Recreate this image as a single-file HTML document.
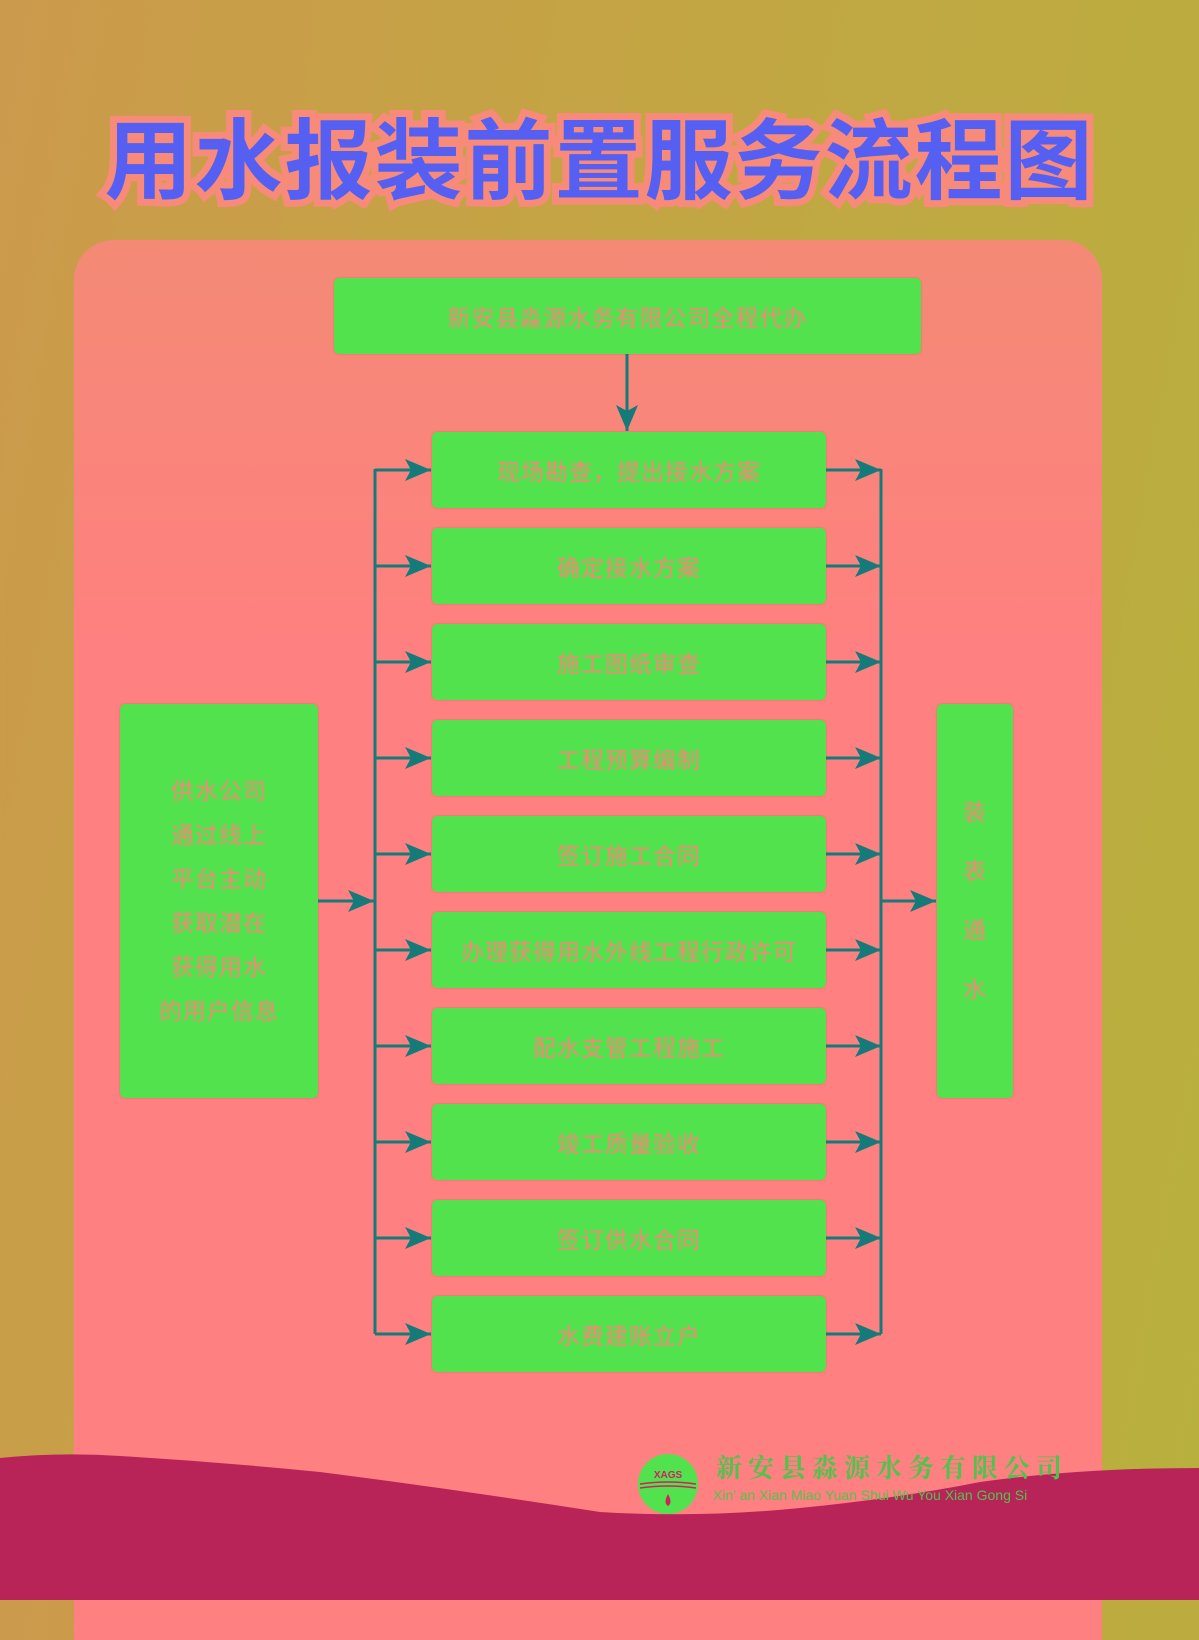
<!DOCTYPE html>
<html><head><meta charset="utf-8"><style>
html,body{margin:0;padding:0}
body{width:1199px;height:1600px;position:relative;overflow:hidden;font-family:"Liberation Sans","Noto Sans CJK SC",sans-serif;
background:linear-gradient(100deg,#cc9a4c 0%,#c4a444 40%,#b8b03e 100%);}
.panel{position:absolute;left:74px;top:240px;width:1028px;height:1400px;border-radius:40px 40px 0 0;
background:linear-gradient(180deg,#f48a76 0%,#ff8080 30%,#ff8080 100%);}
.title{position:absolute;left:0;width:1199px;top:95px;text-align:center;font-size:88px;font-weight:bold;color:#5560f2;letter-spacing:2px;
-webkit-text-stroke:14px #f88a7a;paint-order:stroke fill;font-family:"Noto Sans CJK SC",sans-serif;line-height:120px}
.box{position:absolute;background:#52e24e;border-radius:5px;color:#f08a74;font-size:23px;display:flex;align-items:center;justify-content:center;letter-spacing:1px;box-shadow:0 0 2px #e07060}
.mid{left:432px;width:394px;height:76px}
svg{display:block;position:absolute;left:0;top:0}
</style></head><body>
<div class="panel"></div>
<div class="title">用水报装前置服务流程图</div>
<svg width="1199" height="1600">
<path d="M0 1458 Q60 1452 120 1456 Q220 1462 320 1472 Q460 1490 600 1512 Q700 1518 800 1508 Q900 1498 980 1482 Q1080 1468 1199 1468 L1199 1600 L0 1600Z" fill="#b82458"/>
</svg>
<div class="box" style="left:334px;top:278px;width:587px;height:76px">新安县淼源水务有限公司全程代办</div>
<div class="box mid" style="top:432px">现场勘查，提出接水方案</div>
<div class="box mid" style="top:528px">确定接水方案</div>
<div class="box mid" style="top:624px">施工图纸审查</div>
<div class="box mid" style="top:720px">工程预算编制</div>
<div class="box mid" style="top:816px">签订施工合同</div>
<div class="box mid" style="top:912px">办理获得用水外线工程行政许可</div>
<div class="box mid" style="top:1008px">配水支管工程施工</div>
<div class="box mid" style="top:1104px">竣工质量验收</div>
<div class="box mid" style="top:1200px">签订供水合同</div>
<div class="box mid" style="top:1296px">水费建账立户</div>
<div class="box" style="left:120px;top:704px;width:198px;height:394px;line-height:44px;text-align:center">供水公司<br>通过线上<br>平台主动<br>获取潜在<br>获得用水<br>的用户信息</div>
<div class="box" style="left:937px;top:704px;width:76px;height:394px;line-height:59px;text-align:center">装<br>表<br>通<br>水</div>
<svg width="1199" height="1600">
<defs>
<marker id="b" markerWidth="26" markerHeight="22" refX="26" refY="11" orient="auto" markerUnits="userSpaceOnUse"><path d="M0 0L26 11L0 22L6 11Z" fill="#157a7a"/></marker></defs>
<g stroke="#157a7a" stroke-width="3" fill="none">
<line x1="627" y1="354" x2="627" y2="431" marker-end="url(#b)"/>
<line x1="375" y1="469" x2="375" y2="1334"/>
<line x1="881" y1="469" x2="881" y2="1334"/>
<line x1="318" y1="901" x2="374" y2="901" marker-end="url(#b)"/>
<line x1="881" y1="901" x2="936" y2="901" marker-end="url(#b)"/>
<line x1="375" y1="470" x2="431" y2="470" marker-end="url(#b)"/><line x1="826" y1="470" x2="881" y2="470" marker-end="url(#b)"/>
<line x1="375" y1="566" x2="431" y2="566" marker-end="url(#b)"/><line x1="826" y1="566" x2="881" y2="566" marker-end="url(#b)"/>
<line x1="375" y1="662" x2="431" y2="662" marker-end="url(#b)"/><line x1="826" y1="662" x2="881" y2="662" marker-end="url(#b)"/>
<line x1="375" y1="758" x2="431" y2="758" marker-end="url(#b)"/><line x1="826" y1="758" x2="881" y2="758" marker-end="url(#b)"/>
<line x1="375" y1="854" x2="431" y2="854" marker-end="url(#b)"/><line x1="826" y1="854" x2="881" y2="854" marker-end="url(#b)"/>
<line x1="375" y1="950" x2="431" y2="950" marker-end="url(#b)"/><line x1="826" y1="950" x2="881" y2="950" marker-end="url(#b)"/>
<line x1="375" y1="1046" x2="431" y2="1046" marker-end="url(#b)"/><line x1="826" y1="1046" x2="881" y2="1046" marker-end="url(#b)"/>
<line x1="375" y1="1142" x2="431" y2="1142" marker-end="url(#b)"/><line x1="826" y1="1142" x2="881" y2="1142" marker-end="url(#b)"/>
<line x1="375" y1="1238" x2="431" y2="1238" marker-end="url(#b)"/><line x1="826" y1="1238" x2="881" y2="1238" marker-end="url(#b)"/>
<line x1="375" y1="1334" x2="431" y2="1334" marker-end="url(#b)"/><line x1="826" y1="1334" x2="881" y2="1334" marker-end="url(#b)"/>
</g>
<circle cx="668" cy="1484" r="30" fill="#52e24e"/>
<text x="668" y="1478" font-size="10" font-weight="bold" fill="#d02060" text-anchor="middle" font-family="Liberation Sans">XAGS</text>
<path d="M640 1484 Q668 1480 696 1484 M640 1488 Q668 1484 696 1488" stroke="#d02060" stroke-width="1.5" fill="none"/>
<path d="M668 1494 Q663 1503 668 1506 Q673 1503 668 1494Z" fill="#d02060"/>
<text x="716" y="1477" font-size="26" fill="#52c24e" letter-spacing="6" font-family="Noto Serif CJK SC,serif" font-weight="bold">新安县淼源水务有限公司</text>
<text x="713" y="1500" font-size="14" fill="#52c24e" font-family="Liberation Sans">Xin’ an Xian Miao Yuan Shui Wu You Xian Gong Si</text>
</svg>
</body></html>
